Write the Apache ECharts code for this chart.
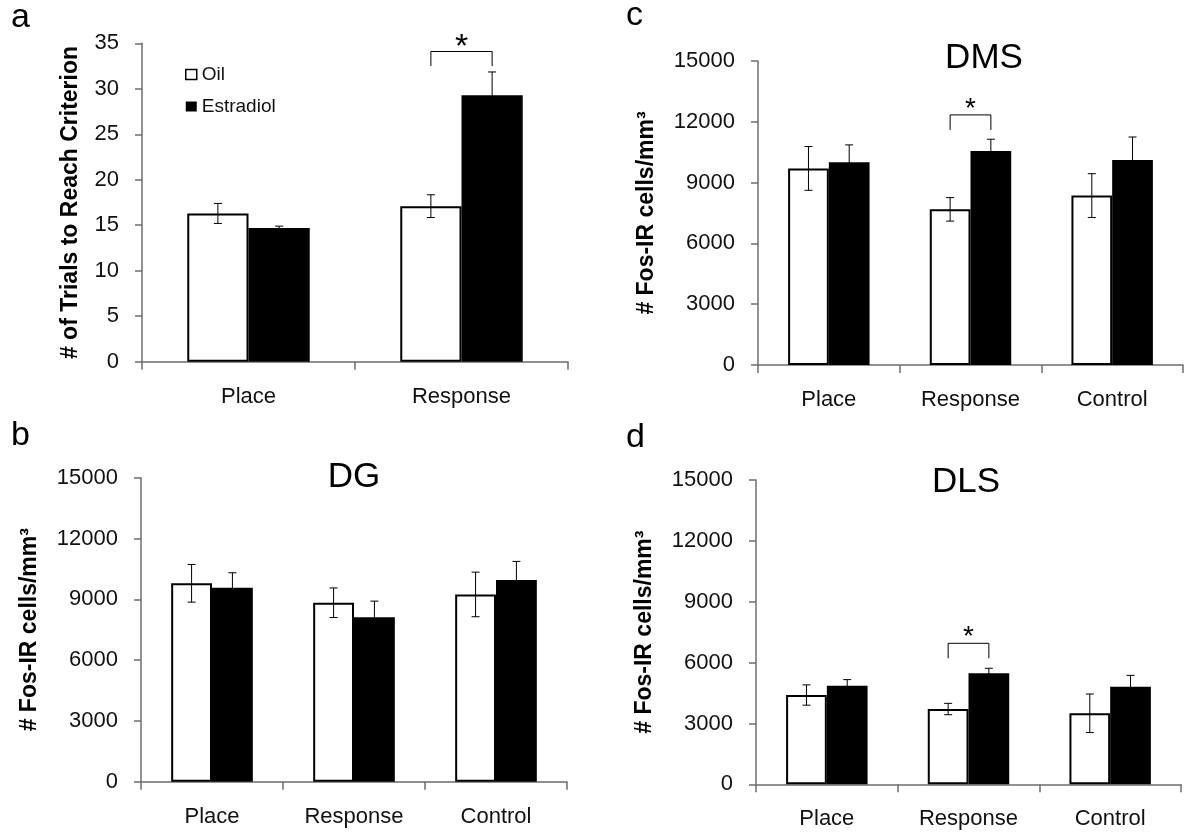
<!DOCTYPE html>
<html lang="en">
<head>
<meta charset="UTF-8">
<title>Fos-IR</title>
<script src="https://cdn.jsdelivr.net/npm/echarts@6/dist/echarts.min.js"></script>
<style>
  html, body { margin: 0; padding: 0; background: #fff; }
  #main { width: 1186px; height: 833px; }
</style>
</head>
<body>
<div id="main"></div>
<script type="text/javascript">
// categories
var cats2 = ['Place', 'Response'];
var cats3 = ['Place', 'Response', 'Control'];

// a: trials to reach criterion
var aOil = [16.3, 17.1], aOilSe = [1.1, 1.25];
var aEst = [14.7, 29.3], aEstSe = [0.2, 2.55];
// b: DG
var dgOil = [9790, 8830, 9240], dgOilSe = [930, 730, 1100];
var dgEst = [9570, 8110, 9950], dgEstSe = [740, 800, 920];
// c: DMS
var dmsOil = [9700, 7680, 8360], dmsOilSe = [1080, 580, 1080];
var dmsEst = [10000, 10560, 10120], dmsEstSe = [860, 580, 1130];
// d: DLS
var dlsOil = [4400, 3710, 3500], dlsOilSe = [500, 280, 950];
var dlsEst = [4860, 5470, 4810], dlsEstSe = [300, 250, 560];

// significance brackets: [category, leg bottom, bracket top, star]
var aSig = [1, 32.5, 34.1, 35.55];
var dmsSig = [1, 11600, 12340, 12990];
var dlsSig = [1, 6210, 6950, 7610];

var FONT = 'Liberation Sans, Arial, sans-serif';
var GAP = 0.425;
var AXIS = '#6e6e6e';

var myChart = echarts.init(document.getElementById('main'));

function errItem(side) {
  return function (params, api) {
    var c = api.value(0);
    var lo = api.coord([c, api.value(1)]);
    var hi = api.coord([c, api.value(2)]);
    var barW = api.size([1, 0])[0] * (1 - GAP) / 2;
    var x = lo[0] + side * barW / 2;
    var st = { stroke: '#000', lineWidth: 1 };
    return { type: 'group', children: [
      { type: 'line', shape: { x1: x, y1: lo[1], x2: x, y2: hi[1] }, style: st },
      { type: 'line', shape: { x1: x - 4, y1: hi[1], x2: x + 4, y2: hi[1] }, style: st },
      { type: 'line', shape: { x1: x - 4, y1: lo[1], x2: x + 4, y2: lo[1] }, style: st }
    ] };
  };
}

function sigItem(fs) {
  return function (params, api) {
    var c = api.value(0);
    var top = api.coord([c, api.value(2)]);
    var leg = api.coord([c, api.value(1)]);
    var star = api.coord([c, api.value(3)]);
    var barW = api.size([1, 0])[0] * (1 - GAP) / 2;
    var xl = top[0] - barW / 2, xr = top[0] + barW / 2;
    return { type: 'group', children: [
      { type: 'polyline', shape: { points: [[xl, leg[1]], [xl, top[1]], [xr, top[1]], [xr, leg[1]]] },
        style: { stroke: '#000', lineWidth: 1, fill: null } },
      { type: 'text', x: top[0], y: star[1] + fs * 0.27,
        style: { text: '*', fontSize: fs, fontFamily: FONT, fill: '#000', align: 'center', verticalAlign: 'middle' } }
    ] };
  };
}

function errData(mean, se) {
  return mean.map(function (m, i) { return [i, m - se[i], m + se[i]]; });
}

var grids = [], xAxes = [], yAxes = [], series = [];

function panel(i, box, cats, max, step, yName, gap, oil, oilSe, est, estSe, sig, starSize) {
  grids.push({ left: box[0], top: box[1], width: box[2], height: box[3] });
  xAxes.push({
    type: 'category', gridIndex: i, data: cats,
    axisLine: { lineStyle: { color: AXIS, width: 1.5 } },
    axisTick: { show: true, length: 8, lineStyle: { color: AXIS, width: 1.5 } },
    axisLabel: { color: '#111', fontSize: 22, fontFamily: FONT, margin: 24 }
  });
  yAxes.push({
    type: 'value', gridIndex: i, min: 0, max: max, interval: step,
    name: yName, nameLocation: 'middle', nameGap: gap,
    nameTextStyle: { color: '#000', fontSize: 23, fontWeight: 'bold', fontFamily: FONT },
    splitLine: { show: false },
    axisLine: { show: true, lineStyle: { color: AXIS, width: 1.5 } },
    axisTick: { show: true, length: 7, lineStyle: { color: AXIS, width: 1.5 } },
    axisLabel: { color: '#111', fontSize: 22, fontFamily: FONT, margin: 23,
      formatter: function (v) { return String(v); } }
  });
  series.push({
    name: 'Oil', type: 'bar', xAxisIndex: i, yAxisIndex: i, data: oil,
    barGap: '0%', barCategoryGap: (GAP * 100) + '%',
    itemStyle: { color: '#fff', borderColor: '#000', borderWidth: 2 }
  });
  series.push({
    name: 'Estradiol', type: 'bar', xAxisIndex: i, yAxisIndex: i, data: est,
    barGap: '0%', barCategoryGap: (GAP * 100) + '%',
    itemStyle: { color: '#000' }
  });
  series.push({ type: 'custom', xAxisIndex: i, yAxisIndex: i, z: 5, silent: true,
    renderItem: errItem(-1), data: errData(oil, oilSe), encode: { x: 0, y: [1, 2] } });
  series.push({ type: 'custom', xAxisIndex: i, yAxisIndex: i, z: 5, silent: true,
    renderItem: errItem(1), data: errData(est, estSe), encode: { x: 0, y: [1, 2] } });
  if (sig) {
    series.push({ type: 'custom', xAxisIndex: i, yAxisIndex: i, z: 6, silent: true, clip: false,
      renderItem: sigItem(starSize), data: [sig], encode: { x: 0, y: [1, 2] } });
  }
}

var fosName = '# Fos-IR cells/mm\u00b3';
panel(0, [142, 43.3, 426, 318.4], cats2, 35, 5, '# of Trials to Reach Criterion', 60, aOil, aOilSe, aEst, aEstSe, aSig, 34);
panel(1, [141, 477.7, 426, 304], cats3, 15000, 3000, fosName, 100, dgOil, dgOilSe, dgEst, dgEstSe, null, 28);
panel(2, [758, 61, 425, 304], cats3, 15000, 3000, fosName, 100, dmsOil, dmsOilSe, dmsEst, dmsEstSe, dmsSig, 28);
panel(3, [756, 480, 425, 304.3], cats3, 15000, 3000, fosName, 100, dlsOil, dlsOilSe, dlsEst, dlsEstSe, dlsSig, 28);

function label(text, x, y, size, align) {
  return { type: 'text', x: x, y: y, silent: true,
    style: { text: text, fontSize: size, fontFamily: FONT, fill: '#000', align: align, verticalAlign: 'middle' } };
}

var option = {
  animation: false,
  backgroundColor: '#fff',
  grid: grids,
  xAxis: xAxes,
  yAxis: yAxes,
  legend: {
    orient: 'vertical', left: 185, top: 65, padding: 0,
    itemWidth: 11, itemHeight: 10, itemGap: 13, icon: 'rect',
    textStyle: { fontSize: 19, fontFamily: FONT, color: '#111' },
    data: [
      { name: 'Oil', itemStyle: { color: '#fff', borderColor: '#000', borderWidth: 1.5 } },
      { name: 'Estradiol', itemStyle: { color: '#000' } }
    ]
  },
  graphic: [
    label('a', 11, 18, 34, 'left'),
    label('b', 11, 436, 34, 'left'),
    label('c', 626, 16, 34, 'left'),
    label('d', 626, 438, 34, 'left'),
    label('DMS', 984, 58, 35, 'center'),
    label('DG', 354, 477, 35, 'center'),
    label('DLS', 966, 482, 35, 'center')
  ],
  series: series
};
myChart.setOption(option);
</script>
</body>
</html>
